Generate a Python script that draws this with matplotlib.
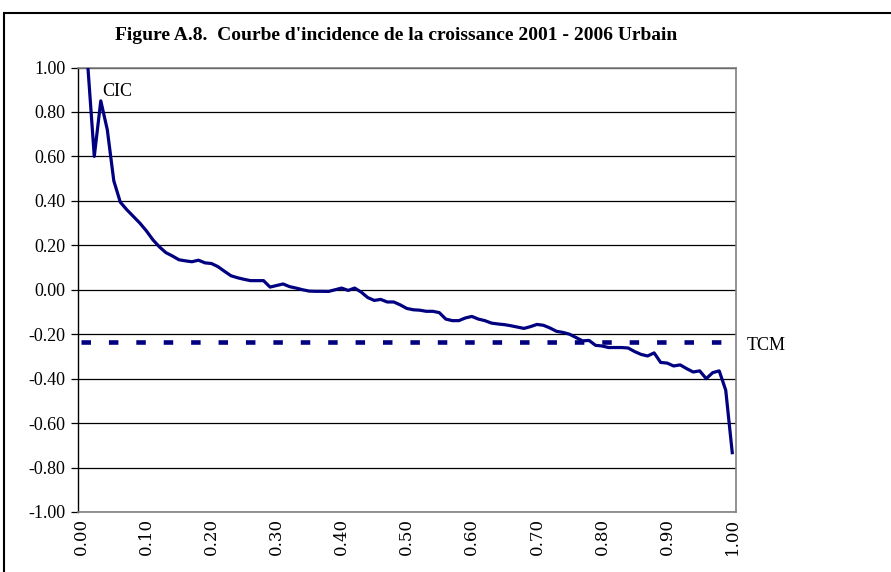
import numpy as np
import matplotlib
matplotlib.use("Agg")
import matplotlib.pyplot as plt
from matplotlib.patches import Rectangle

plt.rcParams['font.family'] = ['Liberation Serif', 'DejaVu Serif']

# percentiles de la population (categories 0.00 ... 1.00)
percentiles = np.arange(0, 101) / 100
# courbe d'incidence de la croissance (CIC)
cic = [1.45, 1.01, 0.60, 0.85, 0.72, 0.49, 0.394, 0.36, 0.33, 0.30,
       0.265, 0.225, 0.193, 0.167, 0.152, 0.135, 0.130, 0.126, 0.133, 0.121,
       0.118, 0.104, 0.083, 0.063, 0.054, 0.047, 0.041, 0.041, 0.041, 0.012,
       0.019, 0.026, 0.014, 0.0075, 0.000, -0.006, -0.007, -0.007, -0.0075, 0.000,
       0.0075, -0.003, 0.0075, -0.0105, -0.035, -0.048, -0.0435, -0.055, -0.055, -0.068,
       -0.084, -0.090, -0.092, -0.097, -0.097, -0.103, -0.132, -0.139, -0.139, -0.127,
       -0.120, -0.132, -0.139, -0.150, -0.154, -0.157, -0.162, -0.168, -0.174, -0.166,
       -0.156, -0.160, -0.172, -0.187, -0.192, -0.200, -0.215, -0.230, -0.228, -0.250,
       -0.253, -0.260, -0.260, -0.260, -0.262, -0.278, -0.291, -0.298, -0.284, -0.327,
       -0.330, -0.343, -0.338, -0.355, -0.370, -0.365, -0.400, -0.373, -0.365, -0.452,
       -0.733]
# taux de croissance moyen
tcm = -0.235

y_ticks = [-1.0, -0.8, -0.6, -0.4, -0.2, 0.0, 0.2, 0.4, 0.6, 0.8, 1.0]
x_ticks = [0.0, 0.1, 0.2, 0.3, 0.4, 0.5, 0.6, 0.7, 0.8, 0.9, 1.0]

fig = plt.figure(figsize=(8.91, 5.72), dpi=100)
ax = fig.add_axes([78 / 891, 1 - 512 / 572, (735.5 - 78) / 891, (512 - 67.5) / 572])

ax.plot(percentiles, cic, color='#000080', lw=2.3, zorder=3)
ax.plot([percentiles[0], percentiles[-1]], [tcm, tcm], color='#000080', lw=3.3,
        linestyle=(0, (2.07, 3.91)), dash_capstyle='butt', zorder=3)

# categories centrees (demi-categorie de chaque cote)
ax.set_xlim(-0.005, 1.005)
ax.set_ylim(-1, 1)
ax.set_yticks(y_ticks)
ax.set_yticklabels(['%.2f' % v for v in y_ticks], fontsize=13)
ax.set_xticks(x_ticks)
ax.set_xticklabels(['%.2f' % v for v in x_ticks], rotation=90, fontsize=12,
                   family='DejaVu Serif')

ax.set_axisbelow(True)
ax.yaxis.grid(True, color='black', lw=0.9)
ax.tick_params(axis='y', direction='out', length=5, width=0.9, pad=4, color='black')
ax.tick_params(axis='x', length=0, pad=4)

for side in ['top', 'right', 'bottom']:
    ax.spines[side].set_color('#808080')
    ax.spines[side].set_linewidth(1.2)
ax.spines['left'].set_color('black')
ax.spines['left'].set_linewidth(1.0)

ax.text(0.033, 0.894, 'CIC', fontsize=13, ha='left', va='center')
ax.text(1.022, -0.252, 'TCM', fontsize=13, ha='left', va='center', clip_on=False)

fig.text(396 / 891, 1 - 35 / 572,
         "Figure A.8.  Courbe d'incidence de la croissance 2001 - 2006 Urbain",
         fontsize=14, fontweight='bold', ha='center', va='center')

fig.patches.append(Rectangle((4 / 891, -0.1), 1.2, (1 - 13 / 572) + 0.1,
                             transform=fig.transFigure, fill=False,
                             edgecolor='black', lw=1.5))

fig.savefig('out.png', dpi=100)
